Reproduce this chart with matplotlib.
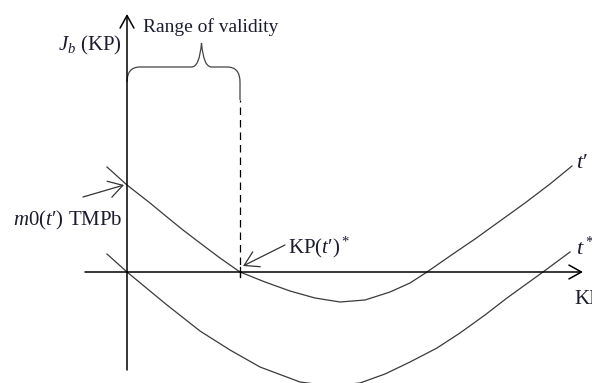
import matplotlib
matplotlib.use("Agg")
import matplotlib.pyplot as plt
from matplotlib.path import Path
from matplotlib.patches import PathPatch

plt.rcParams['font.family'] = 'Liberation Serif'
plt.rcParams['mathtext.fontset'] = 'custom'
plt.rcParams['mathtext.rm'] = 'Liberation Serif'
plt.rcParams['mathtext.it'] = 'Liberation Serif:italic'

# cost curve for t' (KP vs J_b)
kp_t1 = [-20, 0, 23, 40, 56, 73, 93, 113, 138, 163, 188, 213, 238, 263, 283, 300,
         323, 348, 373, 398, 423, 445]
jb_t1 = [105, 87, 69, 55, 42, 29, 14, 0, -10, -19, -26, -30, -28, -20, -11, 0,
         16, 33, 51, 69, 88, 106]

# cost curve for t*
kp_t2 = [-20, 0, 23, 40, 73, 103, 133, 173, 203, 233, 258, 283, 310, 333, 358,
         380, 398, 416, 443]
jb_t2 = [18, 0, -19, -33, -59, -78, -95, -110, -114, -111, -102, -90, -76, -61,
         -43, -26, -13, 0, 20]

kp_star = 113   # KP(t')*, where the t' curve crosses zero
m0_t1 = 87      # J_b of t' at KP = 0

ink = '#1c1c2e'
line = '#3a3a3a'

fig = plt.figure(figsize=(5.92, 3.83), dpi=100)
ax = fig.add_axes([0, 0, 1, 1])
ax.set_xlim(-127, 465)
ax.set_ylim(-111, 272)
ax.axis('off')

# axes with open arrow heads
arr = dict(arrowstyle='->,head_length=0.45,head_width=0.25', color='black',
           lw=1.1, shrinkA=0, shrinkB=0, mutation_scale=20)
ax.annotate('', xy=(0, 258), xytext=(0, -98), arrowprops=arr)
ax.annotate('', xy=(456, 0), xytext=(-42, 0), arrowprops=arr)

ax.plot(kp_t1, jb_t1, color=line, lw=0.9)
ax.plot(kp_t2, jb_t2, color=line, lw=0.9)

# range of validity: dashed marker and brace
ax.plot([kp_star, kp_star], [-5, 172], color='black', lw=0.9, ls=(0, (6, 4)))
ax.plot([kp_star, kp_star], [-5, 5], color='black', lw=0.9)
mid = kp_star / 2 + 18
verts = [(0, 190), (0, 205), (13, 205),
         (mid - 10, 205), (mid - 2, 205), (mid, 229),
         (mid + 2, 205), (mid + 10, 205),
         (kp_star - 13, 205), (kp_star, 205), (kp_star, 190),
         (kp_star, 172)]
codes = [Path.MOVETO, Path.CURVE3, Path.CURVE3,
         Path.LINETO, Path.CURVE3, Path.CURVE3,
         Path.CURVE3, Path.CURVE3,
         Path.LINETO, Path.CURVE3, Path.CURVE3,
         Path.LINETO]
ax.add_patch(PathPatch(Path(verts, codes), fill=False, ec='#444444', lw=0.9))

ax.text(84, 245, 'Range of validity', fontsize=14, color=ink,
        ha='center', va='center')
ax.text(-5, 227, r'$J_b$ (KP)', fontsize=15, color=ink, ha='right', va='center')

pointer = dict(arrowstyle='->,head_length=0.5,head_width=0.3', color='#333333',
               lw=0.9, shrinkA=0, shrinkB=0, mutation_scale=20)
ax.text(-4, 52, "$m0(t$\u2032) TMPb", fontsize=15, color=ink, ha='right', va='center')
ax.annotate('', xy=(-3, m0_t1), xytext=(-44, 75), arrowprops=pointer)

ax.text(161, 25, "KP($t$\u2032)$^*$", fontsize=15, color=ink, ha='left', va='center')
ax.annotate('', xy=(kp_star + 3, 6), xytext=(158, 27), arrowprops=pointer)

ax.text(449, 109, "$t$\u2032", fontsize=16, color=ink, ha='left', va='center')
ax.text(449, 24, r"$t^*$", fontsize=16, color=ink, ha='left', va='center')
ax.text(447, -27, 'KP', fontsize=15, color=ink, ha='left', va='center')

fig.savefig('out.png', dpi=100)
